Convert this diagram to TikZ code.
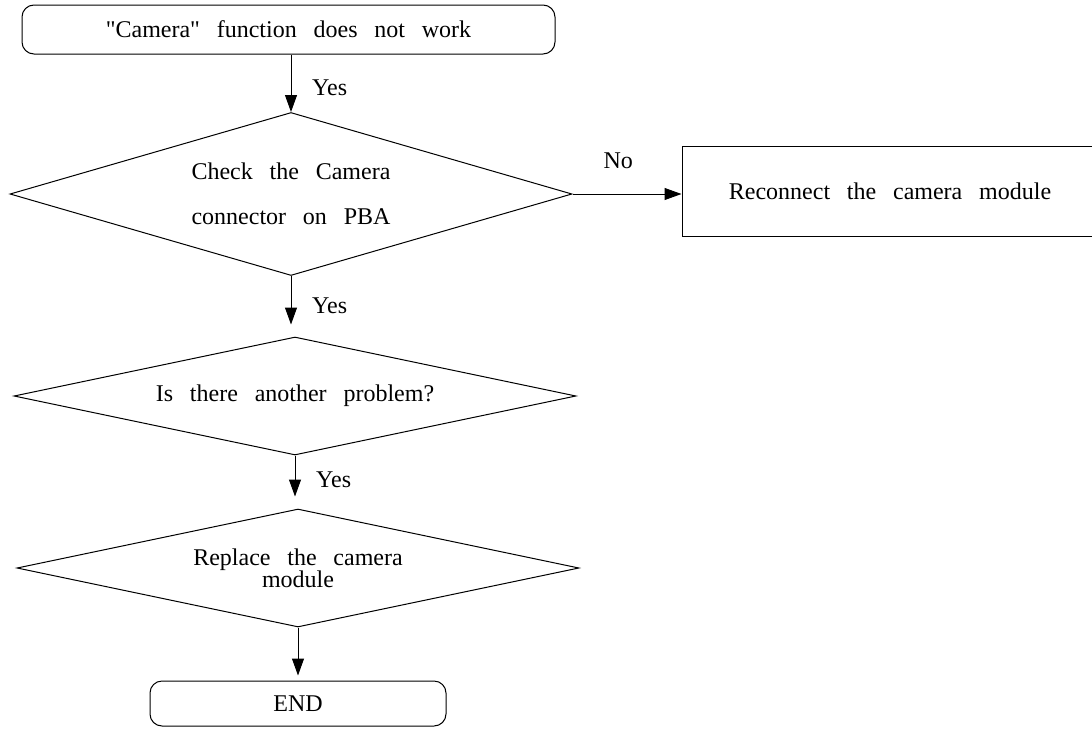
\documentclass[tikz,border=0pt]{standalone}
\usepackage{fontspec}
\setmainfont{Liberation Serif}[WordSpace=2.8,Ligatures=TeXOff]
\usetikzlibrary{shapes.geometric,arrows.meta}
\tikzset{basic/.style={draw,fill=none,line width=0.5pt,
                       text badly centered,inner sep=0pt}}
\tikzset{terminal/.style={basic,rectangle,rounded corners=6pt}}
\tikzset{decision/.style={basic,diamond,minimum width=281pt}}
\tikzset{process/.style={basic,rectangle}}
\tikzset{flow/.style={draw,line width=0.5pt,
                      -{Triangle[length=8.5pt,width=6pt]}}}

\begin{document}
\begin{tikzpicture}[x=0.5pt,y=-0.5pt,font=\fontsize{12}{14}\selectfont]
    \useasboundingbox (0,0) rectangle (1092,728);
    % Draw start and end nodes
    \node[terminal,minimum width=266.5pt,minimum height=24.5pt] (start)
        at (288.5,29.5) {"Camera" function does not work};
    \node[terminal,minimum width=148pt,minimum height=22.5pt] (finish)
        at (298,703.5) {END};
    % Draw decision nodes
    \node[decision,aspect=3.45,minimum height=81.5pt,align=center] (check)
        at (291,194) {Check the Camera\\[8.5pt]connector on PBA};
    \node[decision,aspect=4.76,minimum height=59pt] (other)
        at (295,396) {Is there another problem?};
    \node[decision,aspect=4.76,minimum height=59pt,align=center,
          font=\fontsize{12}{11}\selectfont] (replace)
        at (298,568) {Replace the camera\\module};
    % Draw node for the No branch
    \node[process,minimum width=208pt,minimum height=45pt] (reconnect)
        at (890,191) {Reconnect the camera module};
    % Connect the steps
    \draw[flow] (start.south -| check.north) -- node[right=7pt,pos=0.58] {Yes}
        (check.north);
    \draw[flow,shorten >=6pt] (check.south) -- node[right=7pt,pos=0.5] {Yes}
        (check.south |- other.north);
    \draw[flow,shorten >=6pt] (other.south) -- node[right=7pt,pos=0.46] {Yes}
        (other.south |- replace.north);
    \draw[flow,shorten >=2.5pt] (replace.south) -- (replace.south |- finish.north);
    \draw[flow] (check.east) -- node[above=9pt,pos=0.42] {No}
        (check.east -| reconnect.west);
\end{tikzpicture}
\end{document}
